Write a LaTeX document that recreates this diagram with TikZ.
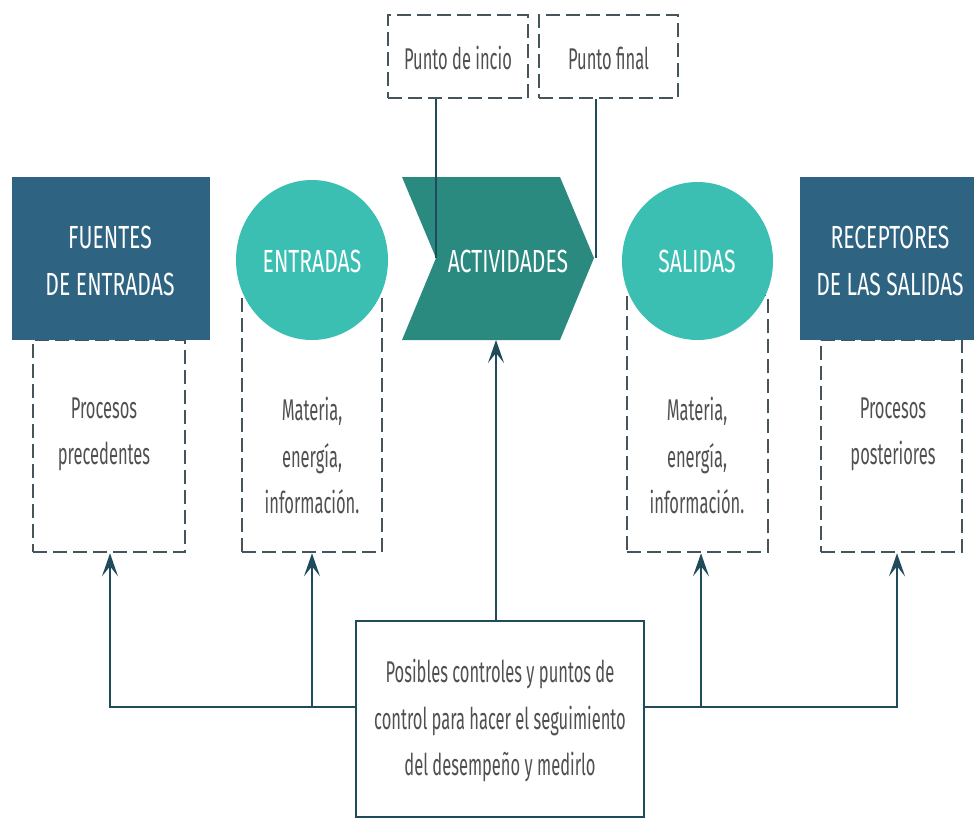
\documentclass[tikz,border=0pt]{standalone}
\usepackage{fontspec}
\setmainfont{Fira Sans}[FakeStretch=0.55]
\newfontfamily\headfont{Fira Sans}[FakeStretch=0.66]
\usetikzlibrary{shapes.geometric,arrows.meta}
\definecolor{navy}{HTML}{2E6482}
\definecolor{aqua}{HTML}{3BBFB3}
\definecolor{pine}{HTML}{2A8A80}
\definecolor{ink}{HTML}{1F4B5A}
\definecolor{dashgray}{HTML}{46555B}
\definecolor{txt}{HTML}{505050}
\tikzset{
  dashbox/.style={draw=dashgray, line width=2.6pt, dash pattern=on 14pt off 6pt, inner sep=0pt},
  bodytext/.style={text=txt, align=center, font=\fontsize{30}{46.5}\selectfont},
  headtext/.style={text=white, align=center, font=\headfont\fontsize{32}{47}\selectfont},
  solidbox/.style={fill=navy, draw=none, inner sep=0pt},
  bubble/.style={ellipse, fill=aqua, draw=none, inner sep=0pt},
  conn/.style={draw=ink, line width=2.2pt},
  thinconn/.style={draw=ink, line width=1.8pt},
  arrowconn/.style={conn, -{Stealth[length=23pt,width=16pt,inset=10pt]}},
}
\begin{document}
\begin{tikzpicture}[x=1pt,y=-1pt]
\useasboundingbox (0,0) rectangle (974,817);

% dashed detail boxes below the headers
\node[dashbox, minimum width=152, minimum height=212] (dfu) at (109,446) {};
\node[dashbox, minimum width=140, minimum height=257] (den) at (312,423.5) {};
\node[dashbox, minimum width=141, minimum height=257] (dsa) at (697.5,423.5) {};
\node[dashbox, minimum width=141, minimum height=212] (dre) at (891.5,446) {};

% start / end markers
\node[dashbox, minimum width=140, minimum height=83] (pini) at (458,56.5) {};
\node[dashbox, minimum width=139, minimum height=83] (pfin) at (608.5,56.5) {};
\node[bodytext] at (458,58) {Punto de incio};
\node[bodytext] at (608.5,58) {Punto final};

% header shapes
\node[solidbox, minimum width=198, minimum height=163] (fu) at (111,258.5) {};
\node[bubble, minimum width=152, minimum height=160] (en) at (312,260) {};
\fill[pine] (402,177) -- (560,177) -- (594,258) -- (560,340) -- (402,340) -- (436,258) -- cycle;
\coordinate (notch) at (436,258);
\coordinate (tip) at (595,258);
\coordinate (actbot) at (496,340);
\node[bubble, minimum width=151, minimum height=158] (sa) at (697.5,261) {};
\node[solidbox, minimum width=174, minimum height=163] (re) at (887,258.5) {};

\node[headtext] at (110,261) {FUENTES\\DE ENTRADAS};
\node[headtext] at (312,261) {ENTRADAS};
\node[headtext] (act) at (508,261) {ACTIVIDADES};
\node[headtext] at (697,261) {SALIDAS};
\node[headtext] at (890,261) {RECEPTORES\\DE LAS SALIDAS};

% detail texts
\node[bodytext, anchor=north] at (104,394) {Procesos\\precedentes};
\node[bodytext, anchor=north] at (312,394) {Materia,\\energía,\\información.};
\node[bodytext, anchor=north] at (697,394) {Materia,\\energía,\\información.};
\node[bodytext, anchor=north] at (893,394) {Procesos\\posteriores};

% control box
\node[draw=ink, line width=2.4pt, minimum width=288, minimum height=196, inner sep=0pt] (ctrl) at (500,719) {};
\node[bodytext, anchor=north] at (500,656) {Posibles controles y puntos de\\control para hacer el seguimiento\\del desempeño y medirlo};

% connectors
\coordinate (hl) at (0,707);
\draw[thinconn] ([xshift=-22pt]pini.south) -- ([xshift=-22pt]pini.south |- notch);
\draw[thinconn] ([xshift=-12.5pt]pfin.south) -- ([xshift=-12.5pt]pfin.south |- tip);
\draw[arrowconn] (ctrl.west |- hl) -| ([xshift=1pt]dfu.south);
\draw[arrowconn] (den.south |- hl) -- (den.south);
\draw[arrowconn] (ctrl.east |- hl) -| ([xshift=5.5pt]dre.south);
\draw[arrowconn] ([xshift=3.5pt]dsa.south |- hl) -- ([xshift=3.5pt]dsa.south);
\draw[arrowconn] (ctrl.north -| actbot) -- (actbot);
\end{tikzpicture}
\end{document}
